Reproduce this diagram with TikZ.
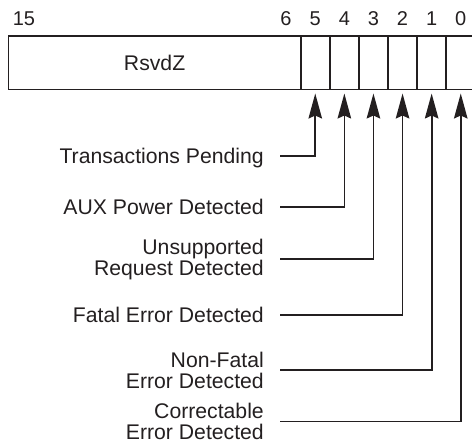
\documentclass[tikz,border=0pt]{standalone}
\usepackage{fontspec}
\setmainfont{Liberation Sans}
\usetikzlibrary{arrows.meta}
\definecolor{ink}{HTML}{231F20}
\begin{document}
\begin{tikzpicture}[x=1pt,y=-1pt,
  cell/.style={draw=ink, line width=1.8pt, minimum height=53.5pt, inner sep=0pt, outer sep=0pt},
  bitnum/.style={text=ink, font=\fontsize{20}{20}\selectfont, inner sep=0pt},
  lbl/.style={text=ink, font=\fontsize{21.2}{20.6}\selectfont, align=right, anchor=east, inner sep=0pt},
  one/.style={text height=15.2pt, text depth=0pt},
  conn/.style={draw=ink, line width=1.7pt, -{Stealth[length=25pt,width=13.5pt,inset=3pt]}, shorten >=4pt}
]
\useasboundingbox (0,0) rectangle (472,443);
% register
\node[cell, minimum width=292.2pt, font=\fontsize{21.2}{21.2}\selectfont, text=ink] (rsvd) at (154.6,62.75) {RsvdZ};
\node[cell, minimum width=29.1pt] (c5) at (315.25,62.75) {};
\node[cell, minimum width=29.1pt] (c4) at (344.35,62.75) {};
\node[cell, minimum width=29.1pt] (c3) at (373.45,62.75) {};
\node[cell, minimum width=29.1pt] (c2) at (402.55,62.75) {};
\node[cell, minimum width=29.1pt] (c1) at (431.65,62.75) {};
\node[cell, minimum width=29.1pt] (c0) at (460.75,62.75) {};
% bit numbers
\node[bitnum] (n15) at (24,19) {15};
\node[bitnum] (n6) at (286,19) {6};
\node[bitnum] (n5) at (315.25,19) {5};
\node[bitnum] (n4) at (344.35,19) {4};
\node[bitnum] (n3) at (373.45,19) {3};
\node[bitnum] (n2) at (402.55,19) {2};
\node[bitnum] (n1) at (431.65,19) {1};
\node[bitnum] (n0) at (460.75,19) {0};
% labels
\node[lbl, one] (tp) at (264,156) {Transactions Pending};
\node[lbl, one] (aux) at (264,207.3) {AUX Power Detected};
\node[lbl] (ur) at (264,259.3) {Unsupported\\Request Detected};
\node[lbl, one] (fe) at (264,315) {Fatal Error Detected};
\node[lbl] (nf) at (264,370.3) {Non-Fatal\\Error Detected};
\node[lbl] (ce) at (264,421.5) {Correctable\\Error Detected};
% connectors
\draw[conn] ([xshift=16pt]tp.east) -| (c5.south);
\draw[conn] ([xshift=16pt]aux.east) -| (c4.south);
\draw[conn] ([xshift=16pt]ur.east) -| (c3.south);
\draw[conn] ([xshift=16pt]fe.east) -| (c2.south);
\draw[conn] ([xshift=16pt]nf.east) -| (c1.south);
\draw[conn] ([xshift=16pt]ce.east) -| (c0.south);
\end{tikzpicture}
\end{document}
